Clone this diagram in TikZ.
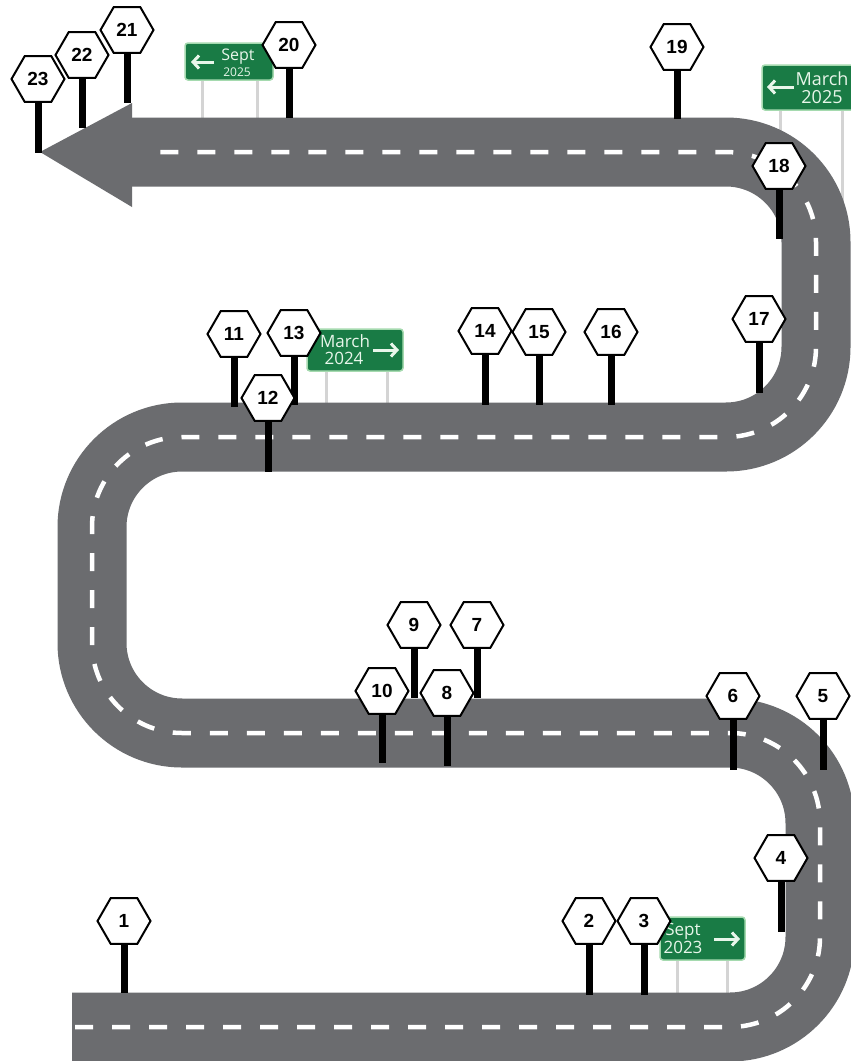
\documentclass[tikz,border=0pt]{standalone}
\usepackage{fontspec}
\setmainfont{Liberation Sans}
\newfontfamily\signfont{Open Sans}
\usetikzlibrary{arrows.meta,shapes.geometric}
\definecolor{roadgray}{RGB}{107,108,111}
\definecolor{signgreen}{RGB}{25,123,69}
\definecolor{signglow}{RGB}{165,218,175}
\definecolor{signtextc}{RGB}{232,246,234}
\definecolor{polegray}{RGB}{212,212,212}
\newcommand\roadsign[4]{%
  \coordinate (t#4) at (#1,#2);
  \coordinate (b#4) at (#1,#3);
  \draw[post] (t#4) -- (b#4);
  \node[hexsign] (s#4) at (t#4) {#4};
}
\begin{document}
\begin{tikzpicture}[x=1pt,y=-1pt,
  road/.style={line width=69pt, draw=roadgray, rounded corners=90pt},
  lane/.style={line width=4.5pt, draw=white, dash pattern=on 18pt off 19pt, dash phase=34pt, rounded corners=90pt},
  hexsign/.style={regular polygon, regular polygon sides=6, draw=black, line width=2pt, fill=white,
    minimum size=53pt, inner sep=0pt, font=\bfseries\fontsize{19}{19}\selectfont},
  post/.style={line width=7pt, draw=black},
  pole/.style={line width=3pt, draw=polegray},
  greenbox/.style={fill=signgreen, draw=signglow, line width=1.5pt, rounded corners=3pt},
  signtxt/.style={text=signtextc, inner sep=0pt, anchor=base, font=\signfont\fontsize{17}{17}\selectfont},
  signarrow/.style={draw=signtextc, line width=3pt, -{Straight Barb[length=6pt,width=13pt]}}
]
\useasboundingbox (0,0) rectangle (851,1061);
\clip (0,0) rectangle (851,1061);
\fill[white] (0,0) rectangle (851,1061);

% sign poles (behind road)
\coordinate (p1a) at (677,960); \coordinate (p1b) at (677,995);
\coordinate (p2a) at (727,960); \coordinate (p2b) at (727,995);
\coordinate (p3a) at (326,371); \coordinate (p3b) at (326,405);
\coordinate (p4a) at (387,371); \coordinate (p4b) at (387,405);
\coordinate (p5a) at (780,110); \coordinate (p5b) at (780,150);
\coordinate (p6a) at (842,110); \coordinate (p6b) at (842,260);
\coordinate (p7a) at (202,80);  \coordinate (p7b) at (202,118);
\coordinate (p8a) at (257,80);  \coordinate (p8b) at (257,118);
\draw[pole] (p1a) -- (p1b); \draw[pole] (p2a) -- (p2b);
\draw[pole] (p3a) -- (p3b); \draw[pole] (p4a) -- (p4b);
\draw[pole] (p5a) -- (p5b); \draw[pole] (p6a) -- (p6b);
\draw[pole] (p7a) -- (p7b); \draw[pole] (p8a) -- (p8b);

% road
\draw[road] (72,1027) -- (820,1027) -- (820,733) -- (92,733) -- (92,437) -- (816,437) -- (816,152) -- (130,152);
\fill[roadgray] (132,103) -- (40,152) -- (132,207) -- cycle;
\draw[lane] (72,1027) -- (820,1027) -- (820,733) -- (92,733) -- (92,437) -- (816,437) -- (816,152) -- (148,152);

% green signs
\draw[greenbox] (660,917) rectangle (745,960);
\node[signtxt] (g1a) at (683,935) {Sept};
\node[signtxt] (g1b) at (683,953) {2023};
\coordinate (g1s) at (714,939); \coordinate (g1e) at (740,939);
\draw[signarrow] (g1s) -- (g1e);

\draw[greenbox] (307,329) rectangle (403,371);
\node[signtxt] (g2a) at (345,347) {March};
\node[signtxt] (g2b) at (344,364) {2024};
\coordinate (g2s) at (373,350); \coordinate (g2e) at (399,350);
\draw[signarrow] (g2s) -- (g2e);

\draw[greenbox] (762,65) rectangle (870,110);
\node[signtxt, font=\signfont\fontsize{18}{18}\selectfont] (g3a) at (822,85) {March};
\node[signtxt, font=\signfont\fontsize{18}{18}\selectfont] (g3b) at (822,103) {2025};
\coordinate (g3s) at (794,87); \coordinate (g3e) at (767,87);
\draw[signarrow] (g3s) -- (g3e);

\draw[greenbox] (185,43) rectangle (273,80);
\node[signtxt, font=\signfont\fontsize{16}{16}\selectfont] (g4a) at (238,60) {Sept};
\node[signtxt, font=\signfont\fontsize{12}{12}\selectfont] (g4b) at (237,76) {2025};
\coordinate (g4s) at (214,62); \coordinate (g4e) at (191,62);
\draw[signarrow] (g4s) -- (g4e);

% numbered signs
\roadsign{124}{921}{993}{1}
\roadsign{589}{921}{995}{2}
\roadsign{644}{921}{995}{3}
\roadsign{781}{858}{932}{4}
\roadsign{823}{696}{770}{5}
\roadsign{733}{696}{770}{6}
\roadsign{477}{625}{698}{7}
\roadsign{414}{625}{698}{9}
\roadsign{382}{691}{763}{10}
\roadsign{447}{693}{766}{8}
\roadsign{234}{334}{407}{11}
\roadsign{294}{333}{405}{13}
\roadsign{268}{398}{472}{12}
\roadsign{485}{331}{405}{14}
\roadsign{539}{332}{405}{15}
\roadsign{611}{332}{405}{16}
\roadsign{759}{319}{393}{17}
\roadsign{779}{166}{239}{18}
\roadsign{677}{47}{119}{19}
\roadsign{289}{45}{118}{20}
\roadsign{127}{30}{103}{21}
\roadsign{82}{55}{128}{22}
\roadsign{38}{79}{153}{23}
\end{tikzpicture}
\end{document}
